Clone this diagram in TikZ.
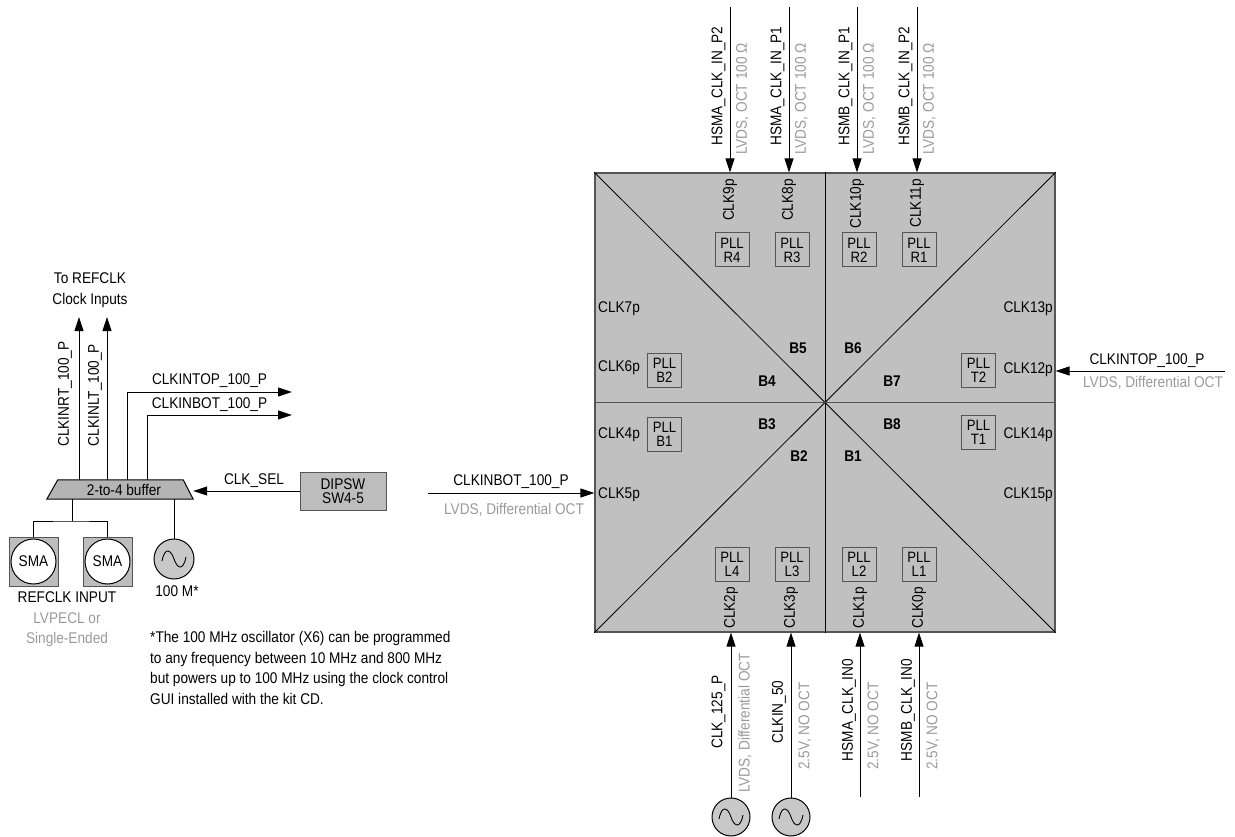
\documentclass[tikz,border=0pt]{standalone}
\usepackage{fontspec}
\setmainfont[FakeStretch=0.88]{Liberation Sans}
\usetikzlibrary{arrows.meta,calc}
\definecolor{sqfill}{HTML}{C0C0C0}
\definecolor{sqborder}{HTML}{555555}
\definecolor{txtgray}{HTML}{9A9A9A}
\definecolor{boxfill}{HTML}{BDBDBD}
\definecolor{buffill}{HTML}{B4B4B4}
\definecolor{oscfill}{HTML}{C8C8C8}
\begin{document}
\begin{tikzpicture}[x=1pt,y=-1pt,
  font=\fontsize{15.5}{18}\selectfont,
  arr/.style={draw=black, line width=1pt, -{Triangle[length=14pt,width=9pt]}},
  wire/.style={draw=black, line width=1pt},
  lbl/.style={inner sep=0pt},
  glbl/.style={inner sep=0pt, text=txtgray},
  rlbl/.style={inner sep=0pt, rotate=90},
  grlbl/.style={inner sep=0pt, rotate=90, text=txtgray},
  bnk/.style={inner sep=0pt, font=\fontsize{15.5}{18}\selectfont\bfseries},
  pll/.style={draw=sqborder, line width=1pt, minimum width=34pt, minimum height=34pt,
    inner sep=0pt, align=center, font=\fontsize{15}{14}\selectfont},
  osc/.style={circle, draw=black, fill=oscfill, line width=1pt, minimum size=38pt, inner sep=0pt},
  wave/.pic={\draw[line width=0.9pt] (-12,2) .. controls (-9,-13) and (-3,-9) .. (0,0)
      .. controls (3,9) and (9,13) .. (12,-2);}
]
\useasboundingbox (0,0) rectangle (1235,837);

% ---------------- chip ----------------
\node[draw=sqborder, fill=sqfill, line width=1.3pt, minimum width=460pt,
  minimum height=459pt, inner sep=0pt] (chip) at (825,402.5) {};
\draw[line width=0.8pt] (chip.north west) -- (chip.south east);
\draw[line width=0.8pt] (chip.north east) -- (chip.south west);
\draw[line width=0.8pt] (chip.north) -- (chip.south);
\draw[draw=sqborder, line width=1.5pt] (chip.west) -- (chip.east);

% bank labels
\node[bnk] (b5) at (798,348) {B5};
\node[bnk] (b6) at (853,348) {B6};
\node[bnk] (b4) at (767,381) {B4};
\node[bnk] (b7) at (892,381) {B7};
\node[bnk] (b3) at (767,424) {B3};
\node[bnk] (b8) at (892,424) {B8};
\node[bnk] (b2) at (799,456) {B2};
\node[bnk] (b1) at (853,456) {B1};

% PLLs
\node[pll] (pr4) at (732,250) {PLL\\R4};
\node[pll] (pr3) at (792,250) {PLL\\R3};
\node[pll] (pr2) at (859,250) {PLL\\R2};
\node[pll] (pr1) at (919,250) {PLL\\R1};
\node[pll] (pb2) at (664.5,370) {PLL\\B2};
\node[pll] (pt2) at (978.5,370) {PLL\\T2};
\node[pll] (pb1) at (664.5,434) {PLL\\B1};
\node[pll] (pt1) at (978.5,432) {PLL\\T1};
\node[pll] (pl4) at (732,564) {PLL\\L4};
\node[pll] (pl3) at (792,564) {PLL\\L3};
\node[pll] (pl2) at (859,564) {PLL\\L2};
\node[pll] (pl1) at (919,564) {PLL\\L1};

% side clock labels
\node[lbl, anchor=west] (c7) at (598,309) {CLK7p};
\node[lbl, anchor=west] (c6) at (598,368) {CLK6p};
\node[lbl, anchor=west] (c4) at (598,435) {CLK4p};
\node[lbl, anchor=west] (c5) at (598,495) {CLK5p};
\node[lbl, anchor=east] (c13) at (1053,309) {CLK13p};
\node[lbl, anchor=east] (c12) at (1053,370) {CLK12p};
\node[lbl, anchor=east] (c14) at (1053,435) {CLK14p};
\node[lbl, anchor=east] (c15) at (1053,495) {CLK15p};

% top clock labels
\node[rlbl, anchor=east] (c9) at (730,179) {CLK9p};
\node[rlbl, anchor=east] (c8) at (789,179) {CLK8p};
\node[rlbl, anchor=east] (c10) at (857,179) {CLK10p};
\node[rlbl, anchor=east] (c11) at (917,179) {CLK11p};
% bottom clock labels
\node[rlbl, anchor=west] (c2) at (731,629) {CLK2p};
\node[rlbl, anchor=west] (c3) at (791,629) {CLK3p};
\node[rlbl, anchor=west] (c1) at (860,629) {CLK1p};
\node[rlbl, anchor=west] (c0) at (919,629) {CLK0p};

% top inputs
\coordinate (t1) at (730,7);
\coordinate (t2) at (789,7);
\coordinate (t3) at (857,7);
\coordinate (t4) at (917,7);
\draw[arr] (t1) -- (t1 |- chip.north);
\draw[arr] (t2) -- (t2 |- chip.north);
\draw[arr] (t3) -- (t3 |- chip.north);
\draw[arr] (t4) -- (t4 |- chip.north);
\node[rlbl] (tl1) at (718.5,86) {HSMA\_CLK\_IN\_P2};
\node[grlbl] (tg1) at (742.5,99) {LVDS, OCT 100 Ω};
\node[rlbl] (tl2) at (777.5,86) {HSMA\_CLK\_IN\_P1};
\node[grlbl] (tg2) at (801.5,99) {LVDS, OCT 100 Ω};
\node[rlbl] (tl3) at (845.5,86) {HSMB\_CLK\_IN\_P1};
\node[grlbl] (tg3) at (869.5,99) {LVDS, OCT 100 Ω};
\node[rlbl] (tl4) at (905.5,86) {HSMB\_CLK\_IN\_P2};
\node[grlbl] (tg4) at (929.5,99) {LVDS, OCT 100 Ω};

% bottom inputs
\node[osc] (o1) at (731,817) {};
\node[osc] (o2) at (791,817) {};
\pic at (o1) {wave};
\pic at (o2) {wave};
\coordinate (bb3) at (860,797);
\coordinate (bb4) at (919,797);
\draw[arr] (o1.north) -- (o1 |- chip.south);
\draw[arr] (o2.north) -- (o2 |- chip.south);
\draw[arr] (bb3) -- (bb3 |- chip.south);
\draw[arr] (bb4) -- (bb4 |- chip.south);
\node[rlbl] (bl1) at (718.5,712) {CLK\_125\_P};
\node[grlbl] (bg1) at (745,723) {LVDS, Differential OCT};
\node[rlbl] (bl2) at (779,712) {CLKIN\_50};
\node[grlbl] (bg2) at (805,726) {2.5V, NO OCT};
\node[rlbl] (bl3) at (849,710) {HSMA\_CLK\_IN0};
\node[grlbl] (bg3) at (874,726) {2.5V, NO OCT};
\node[rlbl] (bl4) at (908,710) {HSMB\_CLK\_IN0};
\node[grlbl] (bg4) at (933,726) {2.5V, NO OCT};

% right input
\coordinate (rin) at (1225,371);
\draw[arr] (rin) -- (rin -| chip.east);
\node[lbl] (rl) at (1147,361) {CLKINTOP\_100\_P};
\node[glbl] (rg) at (1153,383) {LVDS, Differential OCT};

% left input
\coordinate (lin) at (428,493);
\draw[arr] (lin) -- (lin -| chip.west);
\node[lbl] (ll) at (511,482) {CLKINBOT\_100\_P};
\node[glbl] (lg) at (514,510) {LVDS, Differential OCT};

% ---------------- left block ----------------
\node[inner sep=0pt, minimum width=146pt, minimum height=19pt] (buf) at (120,489.5) {};
\draw[fill=buffill, draw=black, line width=1pt] (buf.south west) -- ($(buf.north west)+(11,0)$)
  -- ($(buf.north east)+(-10,0)$) -- (buf.south east) -- cycle;
\node[lbl] (buftxt) at (124,490) {2-to-4 buffer};

\node[draw=sqborder, fill=boxfill, line width=1pt, minimum width=86pt, minimum height=38pt,
  inner sep=0pt, align=center, font=\fontsize{15.5}{14}\selectfont] (dip) at (343,491) {DIPSW\\SW4-5};
\draw[arr] (dip.west) -- (dip.west -| buf.east);
\node[lbl] (sel) at (254,481) {CLK\_SEL};

% outputs
\coordinate (rt) at (79,317);
\coordinate (lt) at (107,317);
\coordinate (tp) at (127,392);
\coordinate (tpe) at (292,392);
\coordinate (bt) at (147,415);
\coordinate (bte) at (292,415);
\draw[arr] (buf.north -| rt) -- (rt);
\draw[arr] (buf.north -| lt) -- (lt);
\draw[arr] (buf.north -| tp) -- (tp) -- (tpe);
\draw[arr] (buf.north -| bt) -- (bt) -- (bte);
\node[rlbl] (rtl) at (65,394) {CLKINRT\_100\_P};
\node[rlbl] (ltl) at (95,395) {CLKINLT\_100\_P};
\node[lbl] (tpl) at (209.5,381) {CLKINTOP\_100\_P};
\node[lbl] (btl) at (209.5,404.5) {CLKINBOT\_100\_P};
\node[inner sep=0pt, align=center, font=\fontsize{15.5}{20.5}\selectfont] (toref) at (90,290) {To REFCLK\\Clock Inputs};

% SMA inputs
\node[draw=sqborder, fill=boxfill, line width=1pt, minimum size=49pt, inner sep=0pt] (sma1) at (33.5,561.5) {};
\node[draw=sqborder, fill=boxfill, line width=1pt, minimum size=49pt, inner sep=0pt] (sma2) at (107.5,561.5) {};
\node[circle, draw=black, fill=white, line width=1pt, minimum size=45pt, inner sep=0pt] (s1) at (sma1) {SMA};
\node[circle, draw=black, fill=white, line width=1pt, minimum size=45pt, inner sep=0pt] (s2) at (sma2) {SMA};
\coordinate (jn) at (72,521);
\draw[wire] (buf.south -| jn) -- (jn);
\draw[wire] (sma1.north) |- (jn) -| (sma2.north);

% oscillator
\node[osc, minimum size=40pt] (o0) at (174,559) {};
\pic at (o0) {wave};
\draw[wire] (buf.south -| o0) -- (o0.north);
\node[lbl] (om) at (177,591) {100 M*};

\node[lbl] (refin) at (67,597) {REFCLK INPUT};
\node[glbl, align=center, font=\fontsize{15.5}{20}\selectfont] (lvpecl) at (67,630) {LVPECL or\\Single-Ended};

\node[inner sep=0pt, align=left, anchor=north west, font=\fontsize{15.5}{20.7}\selectfont] (note) at (150,631)
  {*The 100 MHz oscillator (X6) can be programmed\\to any frequency between 10 MHz and 800 MHz\\but powers up to 100 MHz using the clock control\\GUI installed with the kit CD.};
\end{tikzpicture}
\end{document}
